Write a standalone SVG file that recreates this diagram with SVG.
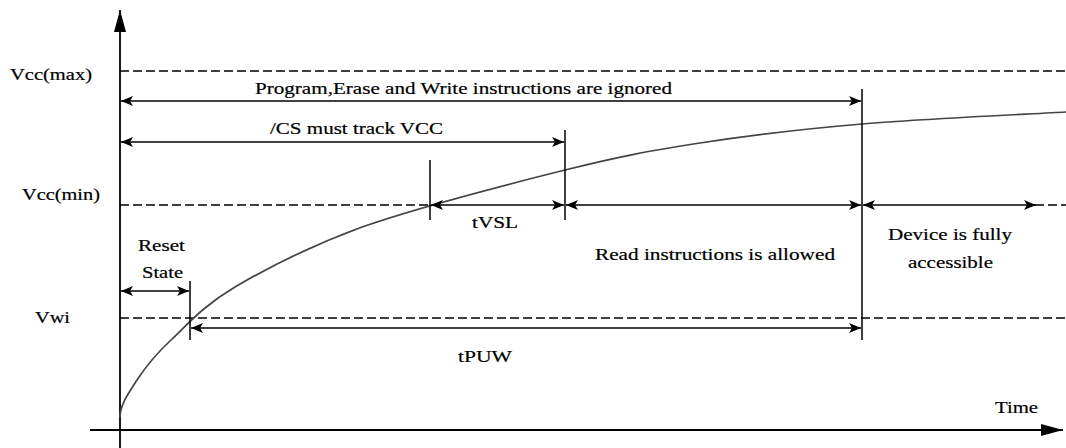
<svg xmlns="http://www.w3.org/2000/svg" width="1066" height="448" viewBox="0 0 1066 448">
<style>
  .t { font-family: "Liberation Serif", "Times New Roman", serif; font-size: 16.5px; fill: #000; stroke: #000; stroke-width: 0.2; }
  .ax { stroke: #000; stroke-width: 1.8; fill: none; }
  .dash { stroke: #000; stroke-width: 1.5; stroke-dasharray: 9 4; fill: none; }
  .dim { stroke: #000; stroke-width: 1.5; fill: none; marker-start: url(#ah); marker-end: url(#ah); }
  .tick { stroke: #000; stroke-width: 1.5; fill: none; }
  .curve { stroke: #444; stroke-width: 1.7; fill: none; }
</style>
<defs>
  <marker id="ah" viewBox="0 0 12 10" refX="12" refY="5" markerWidth="12" markerHeight="10" markerUnits="userSpaceOnUse" orient="auto-start-reverse">
    <path d="M0,0 L12,5 L0,10 L3,5 Z" fill="#000"/>
  </marker>
  <marker id="axh" viewBox="0 0 22 12" refX="22" refY="6" markerWidth="22" markerHeight="12" markerUnits="userSpaceOnUse" orient="auto">
    <path d="M0,0 L22,6 L0,12 Z" fill="#000"/>
  </marker>
</defs>
<rect width="1066" height="448" fill="#fff"/>

<g id="axes">
  <line class="ax" x1="120" y1="448" x2="120" y2="10" marker-end="url(#axh)"/>
  <line class="ax" x1="90" y1="430" x2="1063" y2="430" marker-end="url(#axh)"/>
  <text class="t" x="995" y="413" textLength="43" lengthAdjust="spacingAndGlyphs">Time</text>
</g>

<g id="levels">
  <line class="dash" x1="120" y1="71" x2="1066" y2="71"/>
  <line class="dash" x1="120" y1="205" x2="430" y2="205"/>
  <line class="dash" x1="1035" y1="205" x2="1066" y2="205"/>
  <line class="dash" x1="120" y1="318" x2="1066" y2="318"/>
  <text class="t" x="10" y="80" textLength="82" lengthAdjust="spacingAndGlyphs">Vcc(max)</text>
  <text class="t" x="22" y="200" textLength="78" lengthAdjust="spacingAndGlyphs">Vcc(min)</text>
  <text class="t" x="35" y="323" textLength="35" lengthAdjust="spacingAndGlyphs">Vwi</text>
</g>

<g id="curve">
  <path class="curve" d="M120,417 C120,405 128.7,392.8 137,380 C145.3,367.2 156,354 172,339 C188,324 203.3,305.7 235,287 C266.7,268.3 306.7,247.5 362,227 C417.3,207.5 508.3,184.2 565,170 C621.7,155.8 650.5,150.7 700,143 C749.5,135.3 801,129.2 862,124 C923,118.8 1032,114 1066,112"/>
</g>

<g id="connectors">
  <line class="tick" x1="190" y1="281" x2="190" y2="340"/>
  <line class="tick" x1="430" y1="160" x2="430" y2="220"/>
  <line class="tick" x1="565" y1="130" x2="565" y2="220"/>
  <line class="tick" x1="862" y1="89" x2="862" y2="340"/>
  <line class="dim" x1="121" y1="101" x2="861" y2="101"/>
  <line class="dim" x1="121" y1="142" x2="564" y2="142"/>
  <line class="dim" x1="431" y1="205" x2="564" y2="205"/>
  <line class="dim" x1="566" y1="205" x2="861" y2="205"/>
  <line class="dim" x1="863" y1="205" x2="1036" y2="205"/>
  <line class="dim" x1="121" y1="291" x2="189" y2="291"/>
  <line class="dim" x1="191" y1="328" x2="861" y2="328"/>
</g>

<g id="label-ignored">
  <text class="t" x="255" y="94" textLength="417" lengthAdjust="spacingAndGlyphs">Program,Erase and Write instructions are ignored</text>
</g>
<g id="label-cs">
  <text class="t" x="270" y="134" textLength="173" lengthAdjust="spacingAndGlyphs">/CS must track VCC</text>
</g>
<g id="label-tvsl">
  <text class="t" x="472" y="228" textLength="46" lengthAdjust="spacingAndGlyphs">tVSL</text>
</g>
<g id="label-read">
  <text class="t" x="595" y="260" textLength="240" lengthAdjust="spacingAndGlyphs">Read instructions is allowed</text>
</g>
<g id="label-device">
  <text class="t" x="888" y="240" textLength="124" lengthAdjust="spacingAndGlyphs">Device is fully</text>
  <text class="t" x="908" y="268" textLength="85" lengthAdjust="spacingAndGlyphs">accessible</text>
</g>
<g id="label-reset">
  <text class="t" x="138" y="251" textLength="47" lengthAdjust="spacingAndGlyphs">Reset</text>
  <text class="t" x="142" y="278" textLength="41" lengthAdjust="spacingAndGlyphs">State</text>
</g>
<g id="label-tpuw">
  <text class="t" x="458" y="362" textLength="54" lengthAdjust="spacingAndGlyphs">tPUW</text>
</g>
</svg>
